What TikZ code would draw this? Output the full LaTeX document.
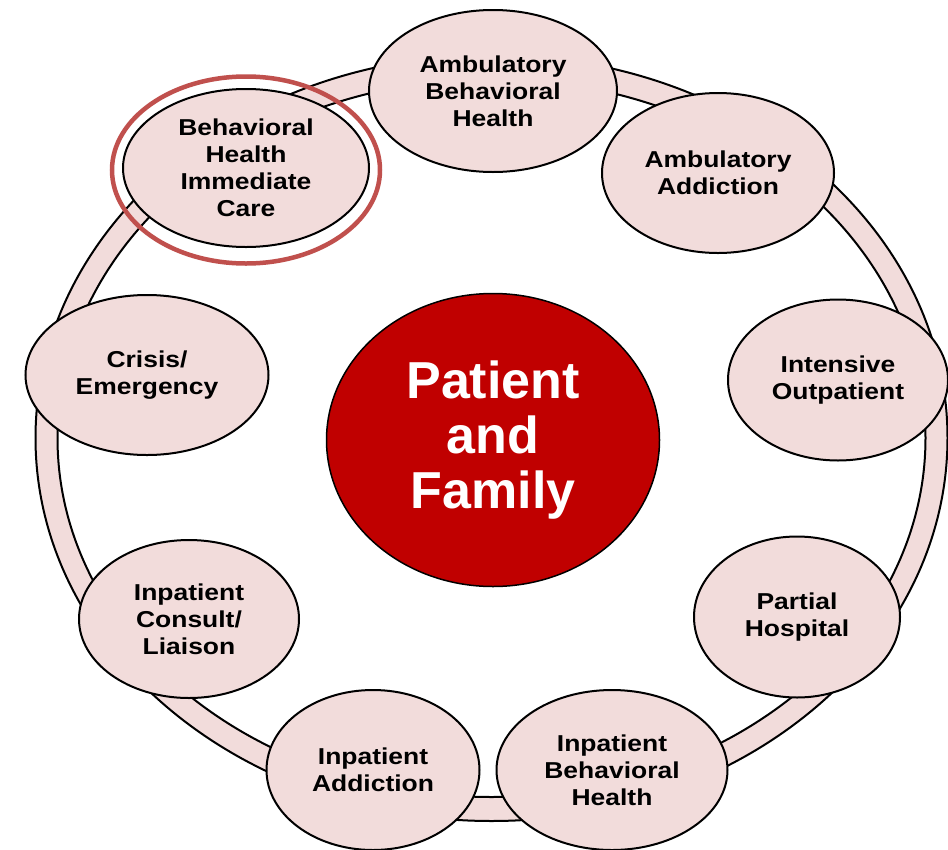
\documentclass[tikz,border=0pt]{standalone}
\usepackage{fontspec}
\setmainfont{Liberation Sans}
\newfontfamily\servfont{Liberation Sans}[FakeStretch=1.15]
\usetikzlibrary{shapes.geometric}
\definecolor{servpink}{HTML}{F2DCDB}
\definecolor{coredred}{HTML}{C00000}
\definecolor{focusred}{HTML}{C0504D}

\begin{document}
\begin{tikzpicture}[x=1pt,y=-1pt,
  service/.style={ellipse,draw=black,line width=2pt,fill=servpink,inner sep=0pt,
    align=center,font=\servfont\bfseries\fontsize{23}{27}\selectfont},
  core/.style={ellipse,draw=black,line width=1.5pt,fill=coredred,inner sep=0pt,
    align=center,text=white,font=\bfseries\fontsize{52}{55}\selectfont}]

\useasboundingbox (0,0) rectangle (948,849);

% ring
\fill[servpink,even odd rule] (491.5,438) ellipse [x radius=456,y radius=383]
  (491.5,438) ellipse [x radius=434,y radius=359];
\draw[line width=2pt] (491.5,438) ellipse [x radius=456,y radius=383];
\draw[line width=2pt] (491.5,438) ellipse [x radius=434,y radius=359];

\node[service,minimum width=248pt,minimum height=162pt] (abh) at (493,91) {Ambulatory\\Behavioral\\Health};
\node[service,minimum width=232pt,minimum height=160pt] (aadd) at (718,173) {Ambulatory\\Addiction};
\node[service,minimum width=220pt,minimum height=161pt] (iop) at (838,380) {Intensive\\Outpatient};
\node[service,minimum width=206pt,minimum height=161pt] (phosp) at (797,617) {Partial\\Hospital};
\node[service,minimum width=231pt,minimum height=160pt] (ibh) at (612,770) {Inpatient\\Behavioral\\Health};
\node[service,minimum width=213pt,minimum height=160pt] (iadd) at (373,770) {Inpatient\\Addiction};
\node[service,minimum width=220pt,minimum height=158pt] (icl) at (189,619) {Inpatient\\Consult/\\Liaison};
\node[service,minimum width=243pt,minimum height=160pt] (crisis) at (147,375) {Crisis/\\Emergency};
\node[service,minimum width=246pt,minimum height=158pt] (bhic) at (246,168) {Behavioral\\Health\\Immediate\\Care};

% highlight
\node[ellipse,draw=focusred,line width=4.5pt,minimum width=268pt,minimum height=187pt] (focus) at (246,170) {};

\node[core,minimum width=333pt,minimum height=293pt] (pf) at (493,440) {Patient\\and\\Family};

\end{tikzpicture}
\end{document}
